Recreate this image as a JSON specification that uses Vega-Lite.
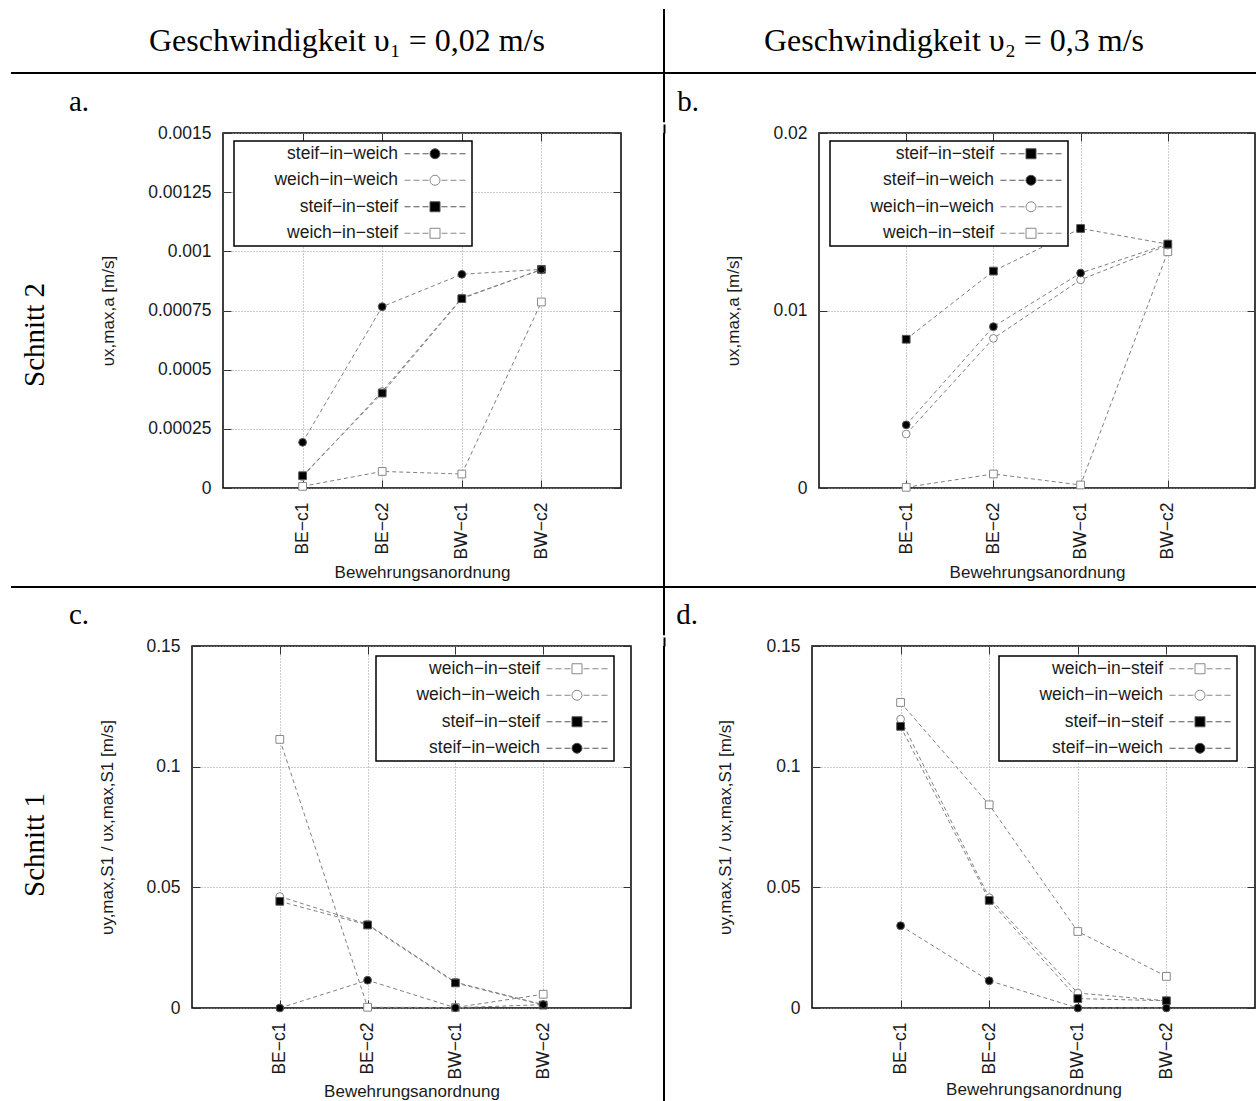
{
  "$schema": "https://vega.github.io/schema/vega-lite/v6.json",
  "padding": 0,
  "autosize": {"type": "pad"},
  "background": "white",
  "datasets": {
    "a": [
      {"s": "weich−in−steif", "c": "BE−c1", "v": 0.000007},
      {"s": "weich−in−steif", "c": "BE−c2", "v": 0.00007},
      {"s": "weich−in−steif", "c": "BW−c1", "v": 0.000059},
      {"s": "weich−in−steif", "c": "BW−c2", "v": 0.000786},
      {"s": "weich−in−weich", "c": "BE−c1", "v": 0.000048},
      {"s": "weich−in−weich", "c": "BE−c2", "v": 0.000408},
      {"s": "weich−in−weich", "c": "BW−c1", "v": 0.000803},
      {"s": "weich−in−weich", "c": "BW−c2", "v": 0.000922},
      {"s": "steif−in−steif", "c": "BE−c1", "v": 0.000052},
      {"s": "steif−in−steif", "c": "BE−c2", "v": 0.000401},
      {"s": "steif−in−steif", "c": "BW−c1", "v": 0.0008},
      {"s": "steif−in−steif", "c": "BW−c2", "v": 0.000924},
      {"s": "steif−in−weich", "c": "BE−c1", "v": 0.000193},
      {"s": "steif−in−weich", "c": "BE−c2", "v": 0.000766},
      {"s": "steif−in−weich", "c": "BW−c1", "v": 0.000903},
      {"s": "steif−in−weich", "c": "BW−c2", "v": 0.000924}
    ],
    "b": [
      {"s": "weich−in−steif", "c": "BE−c1", "v": 0.00004},
      {"s": "weich−in−steif", "c": "BE−c2", "v": 0.00079},
      {"s": "weich−in−steif", "c": "BW−c1", "v": 0.00017},
      {"s": "weich−in−steif", "c": "BW−c2", "v": 0.01331},
      {"s": "weich−in−weich", "c": "BE−c1", "v": 0.00304},
      {"s": "weich−in−weich", "c": "BE−c2", "v": 0.00843},
      {"s": "weich−in−weich", "c": "BW−c1", "v": 0.01173},
      {"s": "weich−in−weich", "c": "BW−c2", "v": 0.01368},
      {"s": "steif−in−weich", "c": "BE−c1", "v": 0.00356},
      {"s": "steif−in−weich", "c": "BE−c2", "v": 0.00909},
      {"s": "steif−in−weich", "c": "BW−c1", "v": 0.01211},
      {"s": "steif−in−weich", "c": "BW−c2", "v": 0.01374},
      {"s": "steif−in−steif", "c": "BE−c1", "v": 0.00838},
      {"s": "steif−in−steif", "c": "BE−c2", "v": 0.01222},
      {"s": "steif−in−steif", "c": "BW−c1", "v": 0.01462},
      {"s": "steif−in−steif", "c": "BW−c2", "v": 0.01374}
    ],
    "c": [
      {"s": "weich−in−steif", "c": "BE−c1", "v": 0.1113},
      {"s": "weich−in−steif", "c": "BE−c2", "v": 0.0003},
      {"s": "weich−in−steif", "c": "BW−c1", "v": 0.0002},
      {"s": "weich−in−steif", "c": "BW−c2", "v": 0.0057},
      {"s": "weich−in−weich", "c": "BE−c1", "v": 0.0462},
      {"s": "weich−in−weich", "c": "BE−c2", "v": 0.0347},
      {"s": "weich−in−weich", "c": "BW−c1", "v": 0.0107},
      {"s": "weich−in−weich", "c": "BW−c2", "v": 0.0014},
      {"s": "steif−in−steif", "c": "BE−c1", "v": 0.0442},
      {"s": "steif−in−steif", "c": "BE−c2", "v": 0.0344},
      {"s": "steif−in−steif", "c": "BW−c1", "v": 0.0104},
      {"s": "steif−in−steif", "c": "BW−c2", "v": 0.0012},
      {"s": "steif−in−weich", "c": "BE−c1", "v": 0.0},
      {"s": "steif−in−weich", "c": "BE−c2", "v": 0.0115},
      {"s": "steif−in−weich", "c": "BW−c1", "v": 0.0001},
      {"s": "steif−in−weich", "c": "BW−c2", "v": 0.0014}
    ],
    "d": [
      {"s": "weich−in−steif", "c": "BE−c1", "v": 0.1266},
      {"s": "weich−in−steif", "c": "BE−c2", "v": 0.0842},
      {"s": "weich−in−steif", "c": "BW−c1", "v": 0.0317},
      {"s": "weich−in−steif", "c": "BW−c2", "v": 0.0131},
      {"s": "weich−in−weich", "c": "BE−c1", "v": 0.1197},
      {"s": "weich−in−weich", "c": "BE−c2", "v": 0.0457},
      {"s": "weich−in−weich", "c": "BW−c1", "v": 0.0062},
      {"s": "weich−in−weich", "c": "BW−c2", "v": 0.003},
      {"s": "steif−in−steif", "c": "BE−c1", "v": 0.1167},
      {"s": "steif−in−steif", "c": "BE−c2", "v": 0.0446},
      {"s": "steif−in−steif", "c": "BW−c1", "v": 0.0039},
      {"s": "steif−in−steif", "c": "BW−c2", "v": 0.003},
      {"s": "steif−in−weich", "c": "BE−c1", "v": 0.0341},
      {"s": "steif−in−weich", "c": "BE−c2", "v": 0.0113},
      {"s": "steif−in−weich", "c": "BW−c1", "v": 0.0},
      {"s": "steif−in−weich", "c": "BW−c2", "v": 0.0}
    ]
  },
  "config": {
    "view": {"stroke": null},
    "concat": {"spacing": 0},
    "axis": {
      "domain": false,
      "labelFont": "Liberation Sans", "labelFontSize": 17.5, "labelColor": "#1a1a1a",
      "titleFont": "Liberation Sans", "titleFontSize": 17, "titleFontWeight": "normal", "titleColor": "#1a1a1a",
      "tickSize": -8, "tickColor": "#333333", "tickWidth": 1,
      "gridColor": "#9a9a9a", "gridDash": [1, 2], "gridWidth": 1,
      "labelFlush": false, "labelOverlap": false, "labelBound": false
    },
    "legend": {
      "padding": 4, "labelAlign": "right", "labelOffset": -45.75, "symbolOffset": 188.25,
      "rowPadding": 7.5, "labelFont": "Liberation Sans", "labelFontSize": 17.5, "labelColor": "#1a1a1a",
      "strokeColor": "black", "strokeWidth": 1.5, "fillColor": "white", "labelLimit": 400, "symbolStrokeWidth": 1
    }
  },
  "spacing": 0,
  "resolve": {"scale": {"shape": "independent", "fill": "independent", "stroke": "independent"}},
  "vconcat": [
    {"width": 1256, "height": 9, "data": {"values": []}, "mark": "point"},
    {"bounds": "flush", "spacing": 0, "hconcat": [
      {"width": 31, "height": 63, "data": {"values": []}, "mark": "point"},
      {"width": 632, "height": 63, "data": {"values": [{"t": "Geschwindigkeit υ₁ = 0,02 m/s"}]}, "mark": {"type": "text", "font": "Liberation Serif", "fontSize": 32, "color": "black", "baseline": "middle", "align": "center"}, "encoding": {"text": {"field": "t"}}},
      {"width": 2, "height": 63, "data": {"values": []}, "mark": "point", "view": {"fill": "black"}},
      {"width": 578, "height": 63, "data": {"values": [{"t": "Geschwindigkeit υ₂ = 0,3 m/s"}]}, "mark": {"type": "text", "font": "Liberation Serif", "fontSize": 32, "color": "black", "baseline": "middle", "align": "center"}, "encoding": {"text": {"field": "t"}}},
      {"width": 13, "height": 63, "data": {"values": []}, "mark": "point"}
    ]},
    {"bounds": "flush", "spacing": 0, "hconcat": [
      {"width": 11, "height": 2, "data": {"values": []}, "mark": "point"},
      {"width": 1245, "height": 2, "data": {"values": []}, "mark": "point", "view": {"fill": "black"}}
    ]},
    {"bounds": "flush", "spacing": 0, "hconcat": [
      {"width": 11, "height": 48.25, "data": {"values": []}, "mark": "point"},
      {"width": 48, "height": 48.25, "data": {"values": []}, "mark": "point"},
      {"width": 9, "height": 48.25, "data": {"values": []}, "mark": "point"},
      {"width": 22, "height": 48.25, "data": {"values": [{"t": "a."}]}, "mark": {"type": "text", "font": "Liberation Serif", "fontSize": 29, "color": "black", "baseline": "middle", "align": "center", "dy": 3.5}, "encoding": {"text": {"field": "t"}}},
      {"width": 573, "height": 48.25, "data": {"values": []}, "mark": "point"},
      {"width": 2, "height": 48.25, "data": {"values": []}, "mark": "point", "view": {"fill": "black"}},
      {"width": 12, "height": 48.25, "data": {"values": []}, "mark": "point"},
      {"width": 22, "height": 48.25, "data": {"values": [{"t": "b."}]}, "mark": {"type": "text", "font": "Liberation Serif", "fontSize": 29, "color": "black", "baseline": "middle", "align": "center", "dy": 3.5}, "encoding": {"text": {"field": "t"}}},
      {"width": 555, "height": 48.25, "data": {"values": []}, "mark": "point"}
    ]},
    {"bounds": "flush", "spacing": 0,
     "resolve": {"scale": {"shape": "independent", "fill": "independent", "stroke": "independent"}},
     "hconcat": [
      {"width": 11, "height": 453, "data": {"values": []}, "mark": "point"},
      {"width": 48, "height": 404, "data": {"values": [{"t": "Schnitt 2"}]}, "mark": {"type": "text", "font": "Liberation Serif", "fontSize": 29, "color": "black", "baseline": "middle", "align": "center", "angle": 270}, "encoding": {"text": {"field": "t"}}},
      {"width": 164, "height": 453, "data": {"values": []}, "mark": "point"},
      {
        "width": 398, "height": 355,
        "view": {"stroke": "black", "strokeWidth": 1.5},
        "data": {"name": "a"},
        "resolve": {"axis": {"x": "independent", "y": "independent"}, "scale": {"shape": "independent", "fill": "independent", "stroke": "independent"}},
        "layer": [
          {"mark": {"type": "line", "stroke": "#808080", "strokeWidth": 1, "strokeDash": [4, 3]},
           "encoding": {
             "x": {"field": "c", "type": "nominal", "sort": null, "scale": {"type": "point", "padding": 1, "domain": ["BE−c1", "BE−c2", "BW−c1", "BW−c2"]}, "axis": {"orient": "bottom", "title": "Bewehrungsanordnung", "labelAngle": 270, "labelPadding": 22, "titleY": 84, "titleBaseline": "middle", "grid": true}},
             "y": {"field": "v", "type": "quantitative", "scale": {"domain": [0, 0.0015], "nice": false, "zero": false}, "axis": {"orient": "left", "title": "υx,max,a [m/s]", "values": [0, 0.00025, 0.0005, 0.00075, 0.001, 0.00125, 0.0015], "labelExpr": "format(datum.value, '~g')", "labelPadding": 20, "titleX": -115, "titleBaseline": "middle", "grid": true}},
             "detail": {"field": "s"}
           }},
          {"mark": {"type": "point", "size": 60, "strokeWidth": 1, "opacity": 1},
           "encoding": {
             "x": {"field": "c", "type": "nominal", "sort": null, "axis": {"orient": "top", "labels": false, "title": null, "grid": false}},
             "y": {"field": "v", "type": "quantitative", "axis": {"orient": "right", "labels": false, "title": null, "grid": false, "values": [0, 0.00025, 0.0005, 0.00075, 0.001, 0.00125, 0.0015]}},
             "shape": {"field": "s", "type": "nominal", "scale": {"domain": ["steif−in−weich", "weich−in−weich", "steif−in−steif", "weich−in−steif"], "range": ["circle", "circle", "square", "square"]}, "legend": null},
             "fill": {"field": "s", "type": "nominal", "scale": {"domain": ["steif−in−weich", "weich−in−weich", "steif−in−steif", "weich−in−steif"], "range": ["black", "white", "black", "white"]}, "legend": null},
             "stroke": {"field": "s", "type": "nominal", "scale": {"domain": ["steif−in−weich", "weich−in−weich", "steif−in−steif", "weich−in−steif"], "range": ["#555555", "#888888", "#555555", "#888888"]}, "legend": null}
           }},
          {"data": {"values": []},
           "mark": {"type": "point", "size": 60, "strokeWidth": 1, "opacity": 1},
           "encoding": {
             "shape": {"field": "s", "type": "nominal", "scale": {"domain": ["steif−in−weich", "weich−in−weich", "steif−in−steif", "weich−in−steif"], "range": ["M-6.1,0H-4.9M-4.3,0H-3.1M-2.5,0H-1.3M1.3,0H2.5M3.1,0H4.3M4.9,0H6.1M1,0A1,1,0,1,1,-1,0A1,1,0,1,1,1,0Z", "M-6.1,0H-4.9M-4.3,0H-3.1M-2.5,0H-1.3M1.3,0H2.5M3.1,0H4.3M4.9,0H6.1M1,0A1,1,0,1,1,-1,0A1,1,0,1,1,1,0Z", "M-6.1,0H-4.9M-4.3,0H-3.1M-2.5,0H-1.3M1.3,0H2.5M3.1,0H4.3M4.9,0H6.1M-1,-1H1V1H-1Z", "M-6.1,0H-4.9M-4.3,0H-3.1M-2.5,0H-1.3M1.3,0H2.5M3.1,0H4.3M4.9,0H6.1M-1,-1H1V1H-1Z"]}, "legend": {"title": null, "orient": "none", "legendX": 11, "legendY": 8}},
             "fill": {"field": "s", "type": "nominal", "scale": {"domain": ["steif−in−weich", "weich−in−weich", "steif−in−steif", "weich−in−steif"], "range": ["black", "white", "black", "white"]}, "legend": {"title": null, "orient": "none", "legendX": 11, "legendY": 8}},
             "stroke": {"field": "s", "type": "nominal", "scale": {"domain": ["steif−in−weich", "weich−in−weich", "steif−in−steif", "weich−in−steif"], "range": ["#555555", "#888888", "#555555", "#888888"]}, "legend": {"title": null, "orient": "none", "legendX": 11, "legendY": 8}}
           }}
        ]
      },
      {"width": 42, "height": 453, "data": {"values": []}, "mark": "point"},
      {"width": 2, "height": 453, "data": {"values": []}, "mark": "point", "view": {"fill": "black"}, "encoding": {"x": {"datum": "v", "type": "nominal", "scale": {"type": "point", "domain": ["v"]}, "axis": {"orient": "top", "ticks": true, "tickSize": 9, "tickWidth": 2, "tickColor": "black", "labels": false, "domain": false, "grid": false, "title": null}}}},
      {"width": 154, "height": 453, "data": {"values": []}, "mark": "point"},
      {
        "width": 436, "height": 355,
        "view": {"stroke": "black", "strokeWidth": 1.5},
        "data": {"name": "b"},
        "resolve": {"axis": {"x": "independent", "y": "independent"}, "scale": {"shape": "independent", "fill": "independent", "stroke": "independent"}},
        "layer": [
          {"mark": {"type": "line", "stroke": "#808080", "strokeWidth": 1, "strokeDash": [4, 3]},
           "encoding": {
             "x": {"field": "c", "type": "nominal", "sort": null, "scale": {"type": "point", "padding": 1, "domain": ["BE−c1", "BE−c2", "BW−c1", "BW−c2"]}, "axis": {"orient": "bottom", "title": "Bewehrungsanordnung", "labelAngle": 270, "labelPadding": 22, "titleY": 84, "titleBaseline": "middle", "grid": true}},
             "y": {"field": "v", "type": "quantitative", "scale": {"domain": [0, 0.02], "nice": false, "zero": false}, "axis": {"orient": "left", "title": "υx,max,a [m/s]", "values": [0, 0.01, 0.02], "labelExpr": "format(datum.value, '~g')", "labelPadding": 20, "titleX": -86, "titleBaseline": "middle", "grid": true}},
             "detail": {"field": "s"}
           }},
          {"mark": {"type": "point", "size": 60, "strokeWidth": 1, "opacity": 1},
           "encoding": {
             "x": {"field": "c", "type": "nominal", "sort": null, "axis": {"orient": "top", "labels": false, "title": null, "grid": false}},
             "y": {"field": "v", "type": "quantitative", "axis": {"orient": "right", "labels": false, "title": null, "grid": false, "values": [0, 0.01, 0.02]}},
             "shape": {"field": "s", "type": "nominal", "scale": {"domain": ["steif−in−steif", "steif−in−weich", "weich−in−weich", "weich−in−steif"], "range": ["square", "circle", "circle", "square"]}, "legend": null},
             "fill": {"field": "s", "type": "nominal", "scale": {"domain": ["steif−in−steif", "steif−in−weich", "weich−in−weich", "weich−in−steif"], "range": ["black", "black", "white", "white"]}, "legend": null},
             "stroke": {"field": "s", "type": "nominal", "scale": {"domain": ["steif−in−steif", "steif−in−weich", "weich−in−weich", "weich−in−steif"], "range": ["#555555", "#555555", "#888888", "#888888"]}, "legend": null}
           }},
          {"data": {"values": []},
           "mark": {"type": "point", "size": 60, "strokeWidth": 1, "opacity": 1},
           "encoding": {
             "shape": {"field": "s", "type": "nominal", "scale": {"domain": ["steif−in−steif", "steif−in−weich", "weich−in−weich", "weich−in−steif"], "range": ["M-6.1,0H-4.9M-4.3,0H-3.1M-2.5,0H-1.3M1.3,0H2.5M3.1,0H4.3M4.9,0H6.1M-1,-1H1V1H-1Z", "M-6.1,0H-4.9M-4.3,0H-3.1M-2.5,0H-1.3M1.3,0H2.5M3.1,0H4.3M4.9,0H6.1M1,0A1,1,0,1,1,-1,0A1,1,0,1,1,1,0Z", "M-6.1,0H-4.9M-4.3,0H-3.1M-2.5,0H-1.3M1.3,0H2.5M3.1,0H4.3M4.9,0H6.1M1,0A1,1,0,1,1,-1,0A1,1,0,1,1,1,0Z", "M-6.1,0H-4.9M-4.3,0H-3.1M-2.5,0H-1.3M1.3,0H2.5M3.1,0H4.3M4.9,0H6.1M-1,-1H1V1H-1Z"]}, "legend": {"title": null, "orient": "none", "legendX": 11, "legendY": 8}},
             "fill": {"field": "s", "type": "nominal", "scale": {"domain": ["steif−in−steif", "steif−in−weich", "weich−in−weich", "weich−in−steif"], "range": ["black", "black", "white", "white"]}, "legend": {"title": null, "orient": "none", "legendX": 11, "legendY": 8}},
             "stroke": {"field": "s", "type": "nominal", "scale": {"domain": ["steif−in−steif", "steif−in−weich", "weich−in−weich", "weich−in−steif"], "range": ["#555555", "#555555", "#888888", "#888888"]}, "legend": {"title": null, "orient": "none", "legendX": 11, "legendY": 8}}
           }}
        ]
      }
    ]},
    {"bounds": "flush", "spacing": 0, "hconcat": [
      {"width": 11, "height": 2, "data": {"values": []}, "mark": "point"},
      {"width": 1245, "height": 2, "data": {"values": []}, "mark": "point", "view": {"fill": "black"}}
    ]},
    {"bounds": "flush", "spacing": 0, "hconcat": [
      {"width": 11, "height": 47.25, "data": {"values": []}, "mark": "point"},
      {"width": 48, "height": 47.25, "data": {"values": []}, "mark": "point"},
      {"width": 9, "height": 47.25, "data": {"values": []}, "mark": "point"},
      {"width": 22, "height": 47.25, "data": {"values": [{"t": "c."}]}, "mark": {"type": "text", "font": "Liberation Serif", "fontSize": 29, "color": "black", "baseline": "middle", "align": "center", "dy": 3.5}, "encoding": {"text": {"field": "t"}}},
      {"width": 573, "height": 47.25, "data": {"values": []}, "mark": "point"},
      {"width": 2, "height": 47.25, "data": {"values": []}, "mark": "point", "view": {"fill": "black"}},
      {"width": 11, "height": 47.25, "data": {"values": []}, "mark": "point"},
      {"width": 22, "height": 47.25, "data": {"values": [{"t": "d."}]}, "mark": {"type": "text", "font": "Liberation Serif", "fontSize": 29, "color": "black", "baseline": "middle", "align": "center", "dy": 3.5}, "encoding": {"text": {"field": "t"}}},
      {"width": 556, "height": 47.25, "data": {"values": []}, "mark": "point"}
    ]},
    {"bounds": "flush", "spacing": 0,
     "resolve": {"scale": {"shape": "independent", "fill": "independent", "stroke": "independent"}},
     "hconcat": [
      {"width": 11, "height": 457, "data": {"values": []}, "mark": "point"},
      {"width": 48, "height": 398, "data": {"values": [{"t": "Schnitt 1"}]}, "mark": {"type": "text", "font": "Liberation Serif", "fontSize": 29, "color": "black", "baseline": "middle", "align": "center", "angle": 270}, "encoding": {"text": {"field": "t"}}},
      {"width": 133, "height": 457, "data": {"values": []}, "mark": "point"},
      {
        "width": 439, "height": 362,
        "view": {"stroke": "black", "strokeWidth": 1.5},
        "data": {"name": "c"},
        "resolve": {"axis": {"x": "independent", "y": "independent"}, "scale": {"shape": "independent", "fill": "independent", "stroke": "independent"}},
        "layer": [
          {"mark": {"type": "line", "stroke": "#808080", "strokeWidth": 1, "strokeDash": [4, 3]},
           "encoding": {
             "x": {"field": "c", "type": "nominal", "sort": null, "scale": {"type": "point", "padding": 1, "domain": ["BE−c1", "BE−c2", "BW−c1", "BW−c2"]}, "axis": {"orient": "bottom", "title": "Bewehrungsanordnung", "labelAngle": 270, "labelPadding": 22, "titleY": 83, "titleBaseline": "middle", "grid": true}},
             "y": {"field": "v", "type": "quantitative", "scale": {"domain": [0, 0.15], "nice": false, "zero": false}, "axis": {"orient": "left", "title": "υy,max,S1 / υx,max,S1 [m/s]", "values": [0, 0.05, 0.1, 0.15], "labelExpr": "format(datum.value, '~g')", "labelPadding": 20, "titleX": -85, "titleBaseline": "middle", "grid": true}},
             "detail": {"field": "s"}
           }},
          {"mark": {"type": "point", "size": 60, "strokeWidth": 1, "opacity": 1},
           "encoding": {
             "x": {"field": "c", "type": "nominal", "sort": null, "axis": {"orient": "top", "labels": false, "title": null, "grid": false}},
             "y": {"field": "v", "type": "quantitative", "axis": {"orient": "right", "labels": false, "title": null, "grid": false, "values": [0, 0.05, 0.1, 0.15]}},
             "shape": {"field": "s", "type": "nominal", "scale": {"domain": ["weich−in−steif", "weich−in−weich", "steif−in−steif", "steif−in−weich"], "range": ["square", "circle", "square", "circle"]}, "legend": null},
             "fill": {"field": "s", "type": "nominal", "scale": {"domain": ["weich−in−steif", "weich−in−weich", "steif−in−steif", "steif−in−weich"], "range": ["white", "white", "black", "black"]}, "legend": null},
             "stroke": {"field": "s", "type": "nominal", "scale": {"domain": ["weich−in−steif", "weich−in−weich", "steif−in−steif", "steif−in−weich"], "range": ["#888888", "#888888", "#555555", "#555555"]}, "legend": null}
           }},
          {"data": {"values": []},
           "mark": {"type": "point", "size": 60, "strokeWidth": 1, "opacity": 1},
           "encoding": {
             "shape": {"field": "s", "type": "nominal", "scale": {"domain": ["weich−in−steif", "weich−in−weich", "steif−in−steif", "steif−in−weich"], "range": ["M-6.1,0H-4.9M-4.3,0H-3.1M-2.5,0H-1.3M1.3,0H2.5M3.1,0H4.3M4.9,0H6.1M-1,-1H1V1H-1Z", "M-6.1,0H-4.9M-4.3,0H-3.1M-2.5,0H-1.3M1.3,0H2.5M3.1,0H4.3M4.9,0H6.1M1,0A1,1,0,1,1,-1,0A1,1,0,1,1,1,0Z", "M-6.1,0H-4.9M-4.3,0H-3.1M-2.5,0H-1.3M1.3,0H2.5M3.1,0H4.3M4.9,0H6.1M-1,-1H1V1H-1Z", "M-6.1,0H-4.9M-4.3,0H-3.1M-2.5,0H-1.3M1.3,0H2.5M3.1,0H4.3M4.9,0H6.1M1,0A1,1,0,1,1,-1,0A1,1,0,1,1,1,0Z"]}, "legend": {"title": null, "orient": "none", "legendX": 184, "legendY": 10}},
             "fill": {"field": "s", "type": "nominal", "scale": {"domain": ["weich−in−steif", "weich−in−weich", "steif−in−steif", "steif−in−weich"], "range": ["white", "white", "black", "black"]}, "legend": {"title": null, "orient": "none", "legendX": 184, "legendY": 10}},
             "stroke": {"field": "s", "type": "nominal", "scale": {"domain": ["weich−in−steif", "weich−in−weich", "steif−in−steif", "steif−in−weich"], "range": ["#888888", "#888888", "#555555", "#555555"]}, "legend": {"title": null, "orient": "none", "legendX": 184, "legendY": 10}}
           }}
        ]
      },
      {"width": 32, "height": 457, "data": {"values": []}, "mark": "point"},
      {"width": 2, "height": 457, "data": {"values": []}, "mark": "point", "view": {"fill": "black"}, "encoding": {"x": {"datum": "v", "type": "nominal", "scale": {"type": "point", "domain": ["v"]}, "axis": {"orient": "top", "ticks": true, "tickSize": 9, "tickWidth": 2, "tickColor": "black", "labels": false, "domain": false, "grid": false, "title": null}}}},
      {"width": 147, "height": 457, "data": {"values": []}, "mark": "point"},
      {
        "width": 443, "height": 362,
        "view": {"stroke": "black", "strokeWidth": 1.5},
        "data": {"name": "d"},
        "resolve": {"axis": {"x": "independent", "y": "independent"}, "scale": {"shape": "independent", "fill": "independent", "stroke": "independent"}},
        "layer": [
          {"mark": {"type": "line", "stroke": "#808080", "strokeWidth": 1, "strokeDash": [4, 3]},
           "encoding": {
             "x": {"field": "c", "type": "nominal", "sort": null, "scale": {"type": "point", "padding": 1, "domain": ["BE−c1", "BE−c2", "BW−c1", "BW−c2"]}, "axis": {"orient": "bottom", "title": "Bewehrungsanordnung", "labelAngle": 270, "labelPadding": 22, "titleY": 81, "titleBaseline": "middle", "grid": true}},
             "y": {"field": "v", "type": "quantitative", "scale": {"domain": [0, 0.15], "nice": false, "zero": false}, "axis": {"orient": "left", "title": "υy,max,S1 / υx,max,S1 [m/s]", "values": [0, 0.05, 0.1, 0.15], "labelExpr": "format(datum.value, '~g')", "labelPadding": 20, "titleX": -87, "titleBaseline": "middle", "grid": true}},
             "detail": {"field": "s"}
           }},
          {"mark": {"type": "point", "size": 60, "strokeWidth": 1, "opacity": 1},
           "encoding": {
             "x": {"field": "c", "type": "nominal", "sort": null, "axis": {"orient": "top", "labels": false, "title": null, "grid": false}},
             "y": {"field": "v", "type": "quantitative", "axis": {"orient": "right", "labels": false, "title": null, "grid": false, "values": [0, 0.05, 0.1, 0.15]}},
             "shape": {"field": "s", "type": "nominal", "scale": {"domain": ["weich−in−steif", "weich−in−weich", "steif−in−steif", "steif−in−weich"], "range": ["square", "circle", "square", "circle"]}, "legend": null},
             "fill": {"field": "s", "type": "nominal", "scale": {"domain": ["weich−in−steif", "weich−in−weich", "steif−in−steif", "steif−in−weich"], "range": ["white", "white", "black", "black"]}, "legend": null},
             "stroke": {"field": "s", "type": "nominal", "scale": {"domain": ["weich−in−steif", "weich−in−weich", "steif−in−steif", "steif−in−weich"], "range": ["#888888", "#888888", "#555555", "#555555"]}, "legend": null}
           }},
          {"data": {"values": []},
           "mark": {"type": "point", "size": 60, "strokeWidth": 1, "opacity": 1},
           "encoding": {
             "shape": {"field": "s", "type": "nominal", "scale": {"domain": ["weich−in−steif", "weich−in−weich", "steif−in−steif", "steif−in−weich"], "range": ["M-6.1,0H-4.9M-4.3,0H-3.1M-2.5,0H-1.3M1.3,0H2.5M3.1,0H4.3M4.9,0H6.1M-1,-1H1V1H-1Z", "M-6.1,0H-4.9M-4.3,0H-3.1M-2.5,0H-1.3M1.3,0H2.5M3.1,0H4.3M4.9,0H6.1M1,0A1,1,0,1,1,-1,0A1,1,0,1,1,1,0Z", "M-6.1,0H-4.9M-4.3,0H-3.1M-2.5,0H-1.3M1.3,0H2.5M3.1,0H4.3M4.9,0H6.1M-1,-1H1V1H-1Z", "M-6.1,0H-4.9M-4.3,0H-3.1M-2.5,0H-1.3M1.3,0H2.5M3.1,0H4.3M4.9,0H6.1M1,0A1,1,0,1,1,-1,0A1,1,0,1,1,1,0Z"]}, "legend": {"title": null, "orient": "none", "legendX": 187, "legendY": 10}},
             "fill": {"field": "s", "type": "nominal", "scale": {"domain": ["weich−in−steif", "weich−in−weich", "steif−in−steif", "steif−in−weich"], "range": ["white", "white", "black", "black"]}, "legend": {"title": null, "orient": "none", "legendX": 187, "legendY": 10}},
             "stroke": {"field": "s", "type": "nominal", "scale": {"domain": ["weich−in−steif", "weich−in−weich", "steif−in−steif", "steif−in−weich"], "range": ["#888888", "#888888", "#555555", "#555555"]}, "legend": {"title": null, "orient": "none", "legendX": 187, "legendY": 10}}
           }}
        ]
      }
    ]}
  ]
}
